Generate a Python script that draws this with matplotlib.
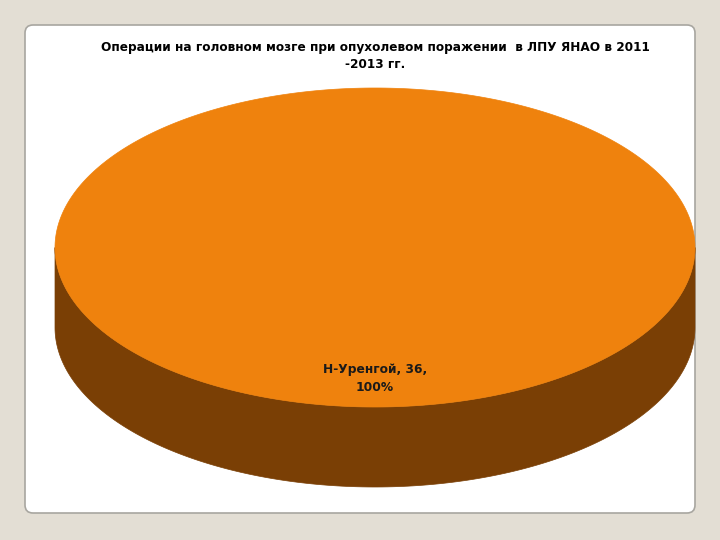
import numpy as np
import matplotlib
matplotlib.use("Agg")
import matplotlib.pyplot as plt
from matplotlib.patches import Polygon, FancyBboxPatch

# data
labels = ["Н-Уренгой"]
values = [36]
title = "Операции на головном мозге при опухолевом поражении  в ЛПУ ЯНАО в 2011\n-2013 гг."

top_colors = ["#ef820d"]
side_colors = ["#7a3f05"]

fig = plt.figure(figsize=(7.2, 5.4), dpi=100, facecolor="#e3ded4")
ax = fig.add_axes([0, 0, 1, 1])
ax.set_xlim(0, 720)
ax.set_ylim(540, 0)
ax.axis("off")

# white panel
panel = FancyBboxPatch((25, 25), 670, 488, boxstyle="round,pad=0,rounding_size=8",
                       facecolor="white", edgecolor="#a8a6a0", linewidth=1.2)
ax.add_patch(panel)

ax.text(375, 56, title, ha="center", va="center", fontsize=8.7, fontweight="bold",
        linespacing=1.4, family="DejaVu Sans")

# 3D pie geometry (screen coords, y down)
cx, cy, rx, ry, depth = 375, 247.5, 320, 159.5, 80

def pt(t):
    return cx + rx * np.cos(t), cy + ry * np.sin(t)

total = float(sum(values))
fracs = [v / total for v in values]
start = -np.pi / 2  # top of ellipse, clockwise on screen
angles = []
for f in fracs:
    angles.append((start, start + 2 * np.pi * f))
    start += 2 * np.pi * f

# side walls (front half only: t in [0, pi])
for (a0, a1), col in zip(angles, side_colors):
    for k in range(-1, 3):
        lo = max(a0, 0 + 2 * np.pi * k)
        hi = min(a1, np.pi + 2 * np.pi * k)
        if hi <= lo:
            continue
        t = np.linspace(lo, hi, 200)
        x, y = pt(t)
        xs = np.concatenate([x, x[::-1]])
        ys = np.concatenate([y, y[::-1] + depth])
        ax.add_patch(Polygon(np.column_stack([xs, ys]), closed=True,
                             facecolor=col, edgecolor=col, linewidth=0.5))

# top faces
for (a0, a1), col in zip(angles, top_colors):
    t = np.linspace(a0, a1, 400)
    x, y = pt(t)
    if a1 - a0 < 2 * np.pi - 1e-9:
        x = np.concatenate([[cx], x])
        y = np.concatenate([[cy], y])
    ax.add_patch(Polygon(np.column_stack([x, y]), closed=True,
                         facecolor=col, edgecolor=col, linewidth=0.5))

# data labels
for lab, v, f, (a0, a1) in zip(labels, values, fracs, angles):
    if f >= 0.999:
        lx, ly = cx, cy + ry * 0.82
    else:
        mid = (a0 + a1) / 2
        lx, ly = cx + 0.6 * rx * np.cos(mid), cy + 0.6 * ry * np.sin(mid)
    ax.text(lx, ly, "%s, %d,\n%d%%" % (lab, v, round(f * 100)), ha="center", va="center",
            fontsize=8.8, fontweight="bold", linespacing=1.45, color="#1a1a1a")

fig.savefig("out.png", dpi=100, facecolor=fig.get_facecolor())
